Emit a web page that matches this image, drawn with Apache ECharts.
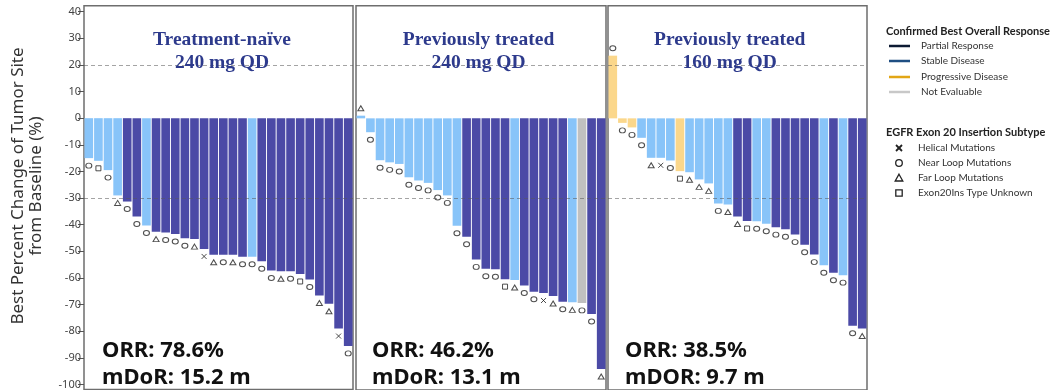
<!DOCTYPE html>
<html><head><meta charset="utf-8">
<script src="https://cdn.jsdelivr.net/npm/echarts@6/dist/echarts.min.js"></script>
<style>html,body{margin:0;padding:0;background:#fff}#c{width:1054px;height:390px}</style>
</head><body><div id="c"></div>
<script>
// ---------- data ----------
const yTicks = [40,30,20,10,0,-10,-20,-30,-40,-50,-60,-70,-80,-90,-100];
const refLines = [20,-30];
const panelTitles = [['Treatment-naïve','240 mg QD'],['Previously treated','240 mg QD'],['Previously treated','160 mg QD']];
const orrText = ['ORR: 78.6%','ORR: 46.2%','ORR: 38.5%'];
const dorText = ['mDoR: 15.2 m','mDoR: 13.1 m','mDOR: 9.7 m'];

// PR = partial response, SD = stable disease, PD = progressive disease, NE = not evaluable
// N = near loop, F = far loop, H = helical, U = type unknown
const p1Values = [-15,-16,-19.5,-29,-31.3,-36.9,-40.3,-42.6,-42.9,-43.5,-45.1,-45.4,-49.1,-51.3,-51.3,-51.3,-52,-52,-53.7,-57.2,-57.5,-57.5,-58.5,-60.6,-66.6,-69.7,-79,-85.5];
const p1Resp   = ['SD','SD','SD','SD','PR','PR','SD','PR','PR','PR','PR','PR','PR','PR','PR','PR','PR','SD','PR','PR','PR','PR','PR','PR','PR','PR','PR','PR'];
const p1Mut    = ['N','U','N','F','N','N','N','F','N','N','N','F','H','F','N','F','N','N','N','N','F','N','U','N','F','F','H','N'];

const p2Values = [1,-5.2,-15.7,-16.5,-17.1,-22.1,-23.3,-24.2,-26.9,-28.9,-40.3,-44.4,-52.9,-56.4,-56.6,-60.3,-60.6,-62.7,-65,-65.5,-66.6,-68.8,-69,-69.2,-73.4,-94];
const p2Resp   = ['SD','SD','SD','SD','SD','SD','SD','SD','SD','SD','SD','PR','PR','PR','PR','PR','SD','PR','PR','PR','PR','PR','SD','NE','PR','PR'];
const p2Mut    = ['F','N','N','N','N','N','N','N','N','N','N','N','N','N','N','U','F','N','N','H','F','N','F','N','N','F'];

const p3Values = [23.5,-1.7,-3.4,-7.3,-14.8,-14.8,-15.8,-19.8,-20.2,-22.9,-24.4,-31.9,-32.3,-36.8,-38.5,-38.6,-39.5,-40.8,-41.6,-43.6,-47.4,-51.1,-55.1,-57.9,-58.8,-77.8,-78.8];
const p3Resp   = ['PD','PD','PD','SD','SD','SD','SD','PD','SD','SD','SD','SD','SD','PR','PR','SD','SD','PR','PR','PR','PR','PR','SD','PR','SD','PR','PR'];
const p3Mut    = ['N','N','N','N','F','H','N','U','F','F','F','N','F','F','U','N','N','N','N','N','N','N','N','N','N','N','F'];

const respLegend = [['Partial Response','#0d1a33'],['Stable Disease','#1f4e82'],['Progressive Disease','#e2a616'],['Not Evaluable','#c8c8c8']];
const mutLegend  = [['H','Helical Mutations'],['N','Near Loop Mutations'],['F','Far Loop Mutations'],['U','Exon20Ins Type Unknown']];

// ---------- styling / layout ----------
const respColor = {PR:'#4b4aa6', SD:'#88c4f9', PD:'#fbd78b', NE:'#c0c0c0'};
const mutSymbol = {N:'circle', F:'triangle', H:'path://M0,0L10,10M10,0L0,10', U:'rect'};
const mutSize   = {N:[6,5], F:[6,5], H:[5,5], U:[5,5]};
const boxes = [{left:84,width:269},{left:356,width:250},{left:608,width:259}];
const gridTop = 5.7, gridHeight = 386, yMin = -101.87, yMax = 42.24;
const textX = [102, 372, 625];
const titleX = [222, 478.5, 729.7];

const panels = [[p1Values,p1Resp,p1Mut],[p2Values,p2Resp,p2Mut],[p3Values,p3Resp,p3Mut]];

const grid=[], xAxis=[], yAxis=[], series=[], graphic=[];
panels.forEach(([vals,resp,mut],k)=>{
  grid.push({left:boxes[k].left, width:boxes[k].width, top:gridTop, height:gridHeight,
    show:true, borderColor:'#6e6e6e', borderWidth:1.5, backgroundColor:'#fff', containLabel:false});
  xAxis.push({gridIndex:k, type:'category', data:vals.map((_,i)=>i+1), show:false, boundaryGap:true});
  yAxis.push({gridIndex:k, type:'value', min:yMin, max:yMax, show:k===0,
    axisLine:{show:false}, splitLine:{show:false},
    axisTick:{show:true, customValues:yTicks, length:6, lineStyle:{color:'#555'}},
    axisLabel:{customValues:yTicks, color:'#444', fontSize:11, margin:3, fontFamily:'Noto Sans'}});
  series.push({type:'bar', xAxisIndex:k, yAxisIndex:k, barCategoryGap:'10%', z:2,
    data:vals.map((v,i)=>({value:v, itemStyle:{color:respColor[resp[i]]}})),
    markLine:{silent:true, symbol:'none', label:{show:false}, z:5,
      lineStyle:{type:[4,3], color:'rgba(90,90,90,0.55)', width:1},
      data:refLines.map(r=>({yAxis:r}))}});
  series.push({type:'scatter', xAxisIndex:k, yAxisIndex:k, z:4, silent:true,
    data:vals.map((v,i)=>({value:[i,v], symbol:mutSymbol[mut[i]], symbolSize:mutSize[mut[i]],
      symbolOffset:[0, v<0?7.5:-7.5]})),
    itemStyle:{color:'rgba(0,0,0,0)', borderColor:'#222', borderWidth:1}});
  // panel titles
  graphic.push({type:'text', x:titleX[k], y:40, z:10, style:{text:panelTitles[k][0], font:'bold 19.5px "Liberation Serif"', fill:'#2d3a8c', align:'center', verticalAlign:'middle'}});
  graphic.push({type:'text', x:titleX[k], y:63, z:10, style:{text:panelTitles[k][1], font:'bold 19.5px "Liberation Serif"', fill:'#2d3a8c', align:'center', verticalAlign:'middle'}});
  graphic.push({type:'text', x:textX[k], y:351, z:10, style:{text:orrText[k], font:'bold 22px "Noto Sans"', fill:'#111', align:'left', verticalAlign:'middle'}});
  graphic.push({type:'text', x:textX[k], y:378, z:10, style:{text:dorText[k], font:'bold 22px "Noto Sans"', fill:'#111', align:'left', verticalAlign:'middle'}});
});

// y-axis title
graphic.push({type:'text', x:18, y:186, rotation:Math.PI/2, style:{text:'Best Percent Change of Tumor Site', font:'17px "Noto Sans"', fill:'#333', align:'center', verticalAlign:'middle'}});
graphic.push({type:'text', x:36, y:186, rotation:Math.PI/2, style:{text:'from Baseline (%)', font:'17px "Noto Sans"', fill:'#333', align:'center', verticalAlign:'middle'}});

// legend
const lgX = 886;
graphic.push({type:'text', x:lgX, y:31, style:{text:'Confirmed Best Overall Response', font:'bold 11px Lato', fill:'#222', align:'left', verticalAlign:'middle'}});
const respY = [46,61,77,92];
respLegend.forEach(([t,c],i)=>{
  graphic.push({type:'line', shape:{x1:889, y1:respY[i], x2:910, y2:respY[i]}, style:{stroke:c, lineWidth:2.5}});
  graphic.push({type:'text', x:921, y:respY[i], style:{text:t, font:'10px Lato', fill:'#333', align:'left', verticalAlign:'middle'}});
});
graphic.push({type:'text', x:lgX, y:132, style:{text:'EGFR Exon 20 Insertion Subtype', font:'bold 11px Lato', fill:'#222', align:'left', verticalAlign:'middle'}});
const mutY = [148,163,178,193];
const mx = 899;
mutLegend.forEach(([m,t],i)=>{
  const y = mutY[i];
  if(m==='H'){
    graphic.push({type:'line', shape:{x1:mx-3,y1:y-3,x2:mx+3,y2:y+3}, style:{stroke:'#222', lineWidth:1.8}});
    graphic.push({type:'line', shape:{x1:mx+3,y1:y-3,x2:mx-3,y2:y+3}, style:{stroke:'#222', lineWidth:1.8}});
  } else if(m==='N'){
    graphic.push({type:'circle', shape:{cx:mx, cy:y, r:3.3}, style:{fill:'none', stroke:'#222', lineWidth:1.3}});
  } else if(m==='F'){
    graphic.push({type:'polygon', shape:{points:[[mx,y-3.8],[mx+3.8,y+3],[mx-3.8,y+3]]}, style:{fill:'none', stroke:'#222', lineWidth:1.3}});
  } else {
    graphic.push({type:'rect', shape:{x:mx-3.2, y:y-3.2, width:6.4, height:6.4}, style:{fill:'none', stroke:'#222', lineWidth:1.3}});
  }
  graphic.push({type:'text', x:918, y:y, style:{text:t, font:'10px Lato', fill:'#333', align:'left', verticalAlign:'middle'}});
});

const chart = echarts.init(document.getElementById('c'));
chart.setOption({animation:false, backgroundColor:'#fff', grid, xAxis, yAxis, series, graphic});
</script></body></html>
